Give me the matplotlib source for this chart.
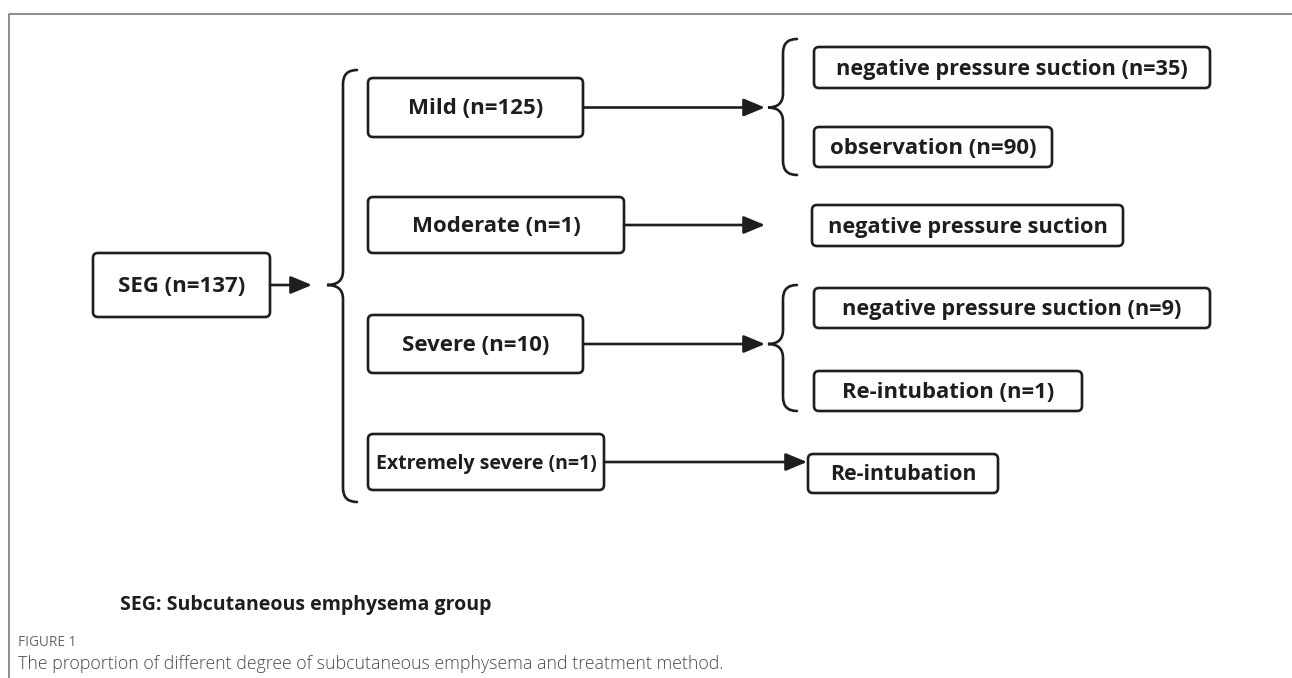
import matplotlib.pyplot as plt
from matplotlib.patches import FancyBboxPatch, PathPatch
from matplotlib.path import Path

# data
total_label = "SEG"
total_n = 137
degrees = ["Mild", "Moderate", "Severe", "Extremely severe"]
degree_n = [125, 1, 10, 1]
treatments = [
    ["negative pressure suction", "observation"],
    ["negative pressure suction"],
    ["negative pressure suction", "Re-intubation"],
    ["Re-intubation"],
]
treatment_n = [[35, 90], [None], [9, 1], [None]]
footnote = "SEG: Subcutaneous emphysema group"
fig_label = "FIGURE 1"
caption = "The proportion of different degree of subcutaneous emphysema and treatment method."

# layout (pixels, y down)
W, H = 1292, 678
INK = "#1e1e1e"
FONT = "Open Sans"

seg_box = (93, 253, 270, 317)
degree_boxes = [(368, 78, 583, 137), (368, 197, 624, 253),
                (368, 315, 583, 373), (368, 434, 604, 490)]
degree_fs = [16, 16, 16, 14]
treat_boxes = [
    [(814, 47, 1210, 88), (814, 127, 1052, 167)],
    [(812, 205, 1123, 246)],
    [(814, 288, 1210, 328), (814, 371, 1082, 411)],
    [(808, 454, 998, 493)],
]
treat_fs = [[15.7, 16], [15.7], [15.7, 15.8], [15.3]]
# arrow end x per degree row, and small braces (top, bottom) where split
arrow_end = [765, 765, 765, 807]
small_braces = [(39, 175), None, (285, 411), None]


def draw_box(ax, box, text, fs):
    x0, y0, x1, y1 = box
    ax.add_patch(FancyBboxPatch((x0, y0), x1 - x0, y1 - y0,
                                boxstyle="round,pad=0,rounding_size=5",
                                fc="white", ec=INK, lw=1.9, zorder=2))
    ax.text((x0 + x1) / 2, (y0 + y1) / 2 + 1.5, text, ha="center", va="center",
            fontsize=fs, fontweight="bold", family=FONT, color=INK, zorder=3)


def draw_arrow(ax, x0, x1, y):
    ax.annotate("", xy=(x1, y), xytext=(x0, y),
                arrowprops=dict(arrowstyle="-|>,head_length=0.65,head_width=0.27",
                                color=INK, lw=1.9, shrinkA=0, shrinkB=0,
                                joinstyle="round", mutation_scale=20),
                zorder=3)


def draw_brace(ax, x_tip, x_bar, x_end, y_top, y_bot, y_tip):
    r = x_end - x_bar
    verts = [
        (x_end, y_top),
        (x_bar, y_top), (x_bar, y_top + r),
        (x_bar, y_tip - r),
        (x_bar, y_tip), (x_tip, y_tip),
        (x_bar, y_tip), (x_bar, y_tip + r),
        (x_bar, y_bot - r),
        (x_bar, y_bot), (x_end, y_bot),
    ]
    codes = [Path.MOVETO, Path.CURVE3, Path.CURVE3, Path.LINETO,
             Path.CURVE3, Path.CURVE3, Path.CURVE3, Path.CURVE3,
             Path.LINETO, Path.CURVE3, Path.CURVE3]
    ax.add_patch(PathPatch(Path(verts, codes), fc="none", ec=INK,
                           lw=1.9, capstyle="round", zorder=3))


fig = plt.figure(figsize=(W / 100, H / 100), dpi=100)
ax = fig.add_axes([0, 0, 1, 1])
ax.set_xlim(0, W)
ax.set_ylim(H, 0)
ax.axis("off")

# frame
ax.plot([9, 9, W], [H, 14, 14], color="#7a7a7a", lw=1.2)

draw_box(ax, seg_box, f"{total_label} (n={total_n})", 16)
seg_y = (seg_box[1] + seg_box[3]) / 2
draw_arrow(ax, seg_box[2], 312, seg_y)

draw_brace(ax, 327, 343, 357, 70, 502, seg_y)

for i, name in enumerate(degrees):
    box = degree_boxes[i]
    draw_box(ax, box, f"{name} (n={degree_n[i]})", degree_fs[i])
    y = (box[1] + box[3]) / 2
    draw_arrow(ax, box[2], arrow_end[i], y)
    if small_braces[i] is not None:
        top, bot = small_braces[i]
        draw_brace(ax, 768, 783, 797, top, bot, y)
    for j, t in enumerate(treatments[i]):
        n = treatment_n[i][j]
        label = t if n is None else f"{t} (n={n})"
        draw_box(ax, treat_boxes[i][j], label, treat_fs[i][j])

ax.text(120, 605, footnote, ha="left", va="center", fontsize=14,
        fontweight="bold", family=FONT, color=INK)
ax.text(18, 643, fig_label, ha="left", va="center", fontsize=9.8,
        family=FONT, color="#666666")
ax.text(18, 664, caption, ha="left", va="center", fontsize=12.8,
        family=FONT, color="#4a4a4a", fontweight="light")

fig.savefig("out.png", dpi=100)
